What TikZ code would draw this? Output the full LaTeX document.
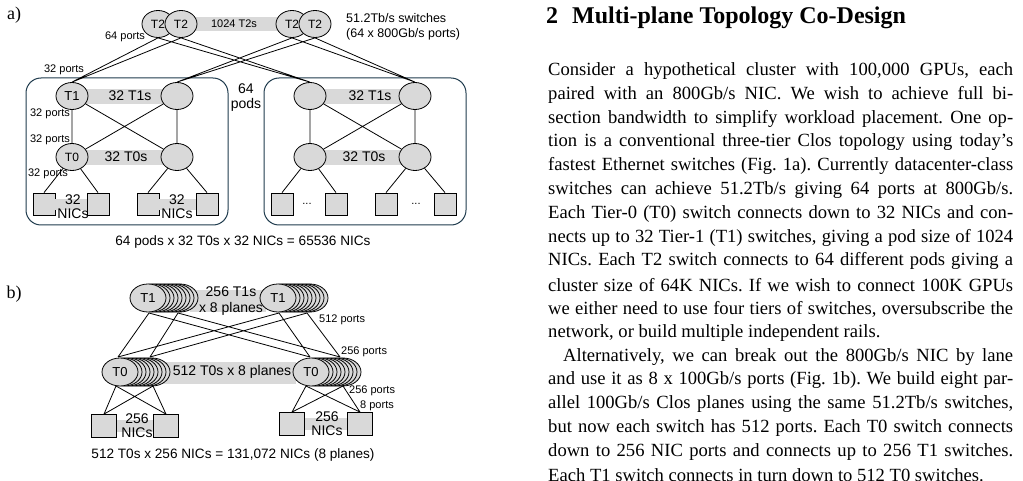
\documentclass[tikz,border=0pt]{standalone}
\usepackage{fontspec}
\setmainfont{Liberation Serif}
\newfontfamily\arial{Liberation Sans}
\usetikzlibrary{shapes.geometric}
\definecolor{lg}{HTML}{D9D9D9}
\definecolor{podc}{HTML}{1F3B4D}
\tikzset{
 sw/.style={ellipse,draw=black,fill=lg,line width=0.8pt,minimum width=32pt,minimum height=27pt,inner sep=0pt,font=\arial\fontsize{12}{12}\selectfont},
 swb/.style={sw,minimum width=36pt,minimum height=28pt},
 nic/.style={rectangle,draw=black,fill=lg,line width=0.8pt,minimum size=22pt,inner sep=0pt},
 bar/.style={fill=lg,draw=none},
 lnk/.style={line width=0.8pt},
 sm/.style={font=\arial\fontsize{11}{11}\selectfont,inner sep=0pt},
 md/.style={font=\arial\fontsize{13}{13}\selectfont,inner sep=0pt,align=center},
 pod/.style={draw=podc,line width=1pt,rounded corners=15pt},
 bl/.style={anchor=west,inner sep=0pt,font=\frenchspacing\fontsize{18.6}{18}\selectfont}
}
\newcommand{\jl}[1]{\makebox[465pt][s]{#1}}
\begin{document}
\begin{tikzpicture}[x=1pt,y=-1pt]
\useasboundingbox (0,0) rectangle (1023,481);
% ---------- a) ----------
\node[inner sep=0pt,font=\fontsize{18}{18}\selectfont] (la) at (14,15) {a)};
\fill[bar] (192,17) rectangle (290,31);
\node[sw] (t2a) at (158,24) {T2};
\node[sw] (t2b) at (181,24) {T2};
\node[sm] (t2lab) at (234,24) {1024 T2s};
\node[sw] (t2c) at (292,24) {T2};
\node[sw] (t2d) at (315,24) {T2};
\node[sm,anchor=west,font=\arial\fontsize{12.5}{12}\selectfont] (sw1) at (346,18) {51.2Tb/s switches};
\node[sm,anchor=west,font=\arial\fontsize{12.5}{12}\selectfont] (sw2) at (346,34) {(64 x 800Gb/s ports)};
\node[sm] (p64) at (125,37) {64 ports};
\node[sm] (p32a) at (64,70) {32 ports};
\draw[pod] (26,78) rectangle (228,225);
\draw[pod] (264,78) rectangle (466,225);
\node[md,font=\arial\fontsize{14}{14}\selectfont] (pods) at (246,98) {64\\[1pt]pods};
\foreach \o/\s in {0/L,238/R}{
 \fill[bar] (72+\o,89) rectangle (177+\o,104);
 \fill[bar] (72+\o,150) rectangle (177+\o,165);
 \node[sw] (a1\s) at (72+\o,96) {};
 \node[sw] (b1\s) at (177+\o,96) {};
 \node[sw] (a0\s) at (72+\o,157) {};
 \node[sw] (b0\s) at (177+\o,157) {};
 \node[nic] (n1\s) at (44+\o,204) {};
 \node[nic] (n2\s) at (98+\o,204) {};
 \node[nic] (n3\s) at (148+\o,204) {};
 \node[nic] (n4\s) at (207+\o,204) {};
 \draw[lnk] (a1\s) -- (a0\s) (b1\s) -- (b0\s) (a1\s) -- (b0\s) (b1\s) -- (a0\s);
 \draw[lnk] (a0\s) -- (n1\s.north) (a0\s) -- (n2\s.north) (b0\s) -- (n3\s.north) (b0\s) -- (n4\s.north);
}
\node[md] at (a1L) {T1};
\node[md,font=\arial\fontsize{12}{12}\selectfont] at (a0L) {T0};
\node[md,font=\arial\fontsize{14}{14}\selectfont] (l1L) at (130,96) {32 T1s};
\node[md,font=\arial\fontsize{14}{14}\selectfont] (l1R) at (370,96) {32 T1s};
\node[md,font=\arial\fontsize{14}{14}\selectfont] (l0L) at (126,157) {32 T0s};
\node[md,font=\arial\fontsize{14}{14}\selectfont] (l0R) at (364,157) {32 T0s};
\fill[bar] (n1L.east|-0,199) rectangle (n2L.west|-0,210);
\fill[bar] (n3L.east|-0,199) rectangle (n4L.west|-0,210);
\node[md,font=\arial\fontsize{14}{14}\selectfont] (ncL1) at (73,207) {32\\NICs};
\node[md,font=\arial\fontsize{14}{14}\selectfont] (ncL2) at (177,207) {32\\NICs};
\node[sm] (dt1) at (307,204) {...};
\node[sm] (dt2) at (416,204) {...};
\draw[lnk] (t2a.south) -- (a1L.north) (t2b.south) -- (a1L.north)
 (t2a.south) -- (a1R.north) (t2b.south) -- (a1R.north)
 (t2c.south) -- (b1L.north) (t2d.south) -- (b1L.north)
 (t2c.south) -- (b1R.north) (t2d.south) -- (b1R.north);
\node[sm] (p32b) at (50,114) {32 ports};
\node[sm] (p32c) at (50,140) {32 ports};
\node[sm] (p32d) at (48,174) {32 ports};
\node[md,font=\arial\fontsize{13.6}{13}\selectfont] (suma) at (243,242) {64 pods x 32 T0s x 32 NICs = 65536 NICs};
% ---------- b) ----------
\node[inner sep=0pt,font=\fontsize{18}{18}\selectfont] (lb) at (14,294) {b)};
\fill[bar] (190,290) rectangle (266,312);
\fill[bar] (160,362) rectangle (296,384);
\foreach \n/\x/\y/\t in {u1/148/298/T1,u2/278/298/T1,d1/120/372/T0,d2/311/372/T0}{
 \foreach \k in {8,7,...,1}{\node[swb] at (\x+4*\k,\y) {};}
 \node[swb,font=\arial\fontsize{13}{13}\selectfont] (\n) at (\x,\y) {\t};
}
\node[md,font=\arial\fontsize{14}{14}\selectfont] (lab1) at (231,292) {256 T1s};
\node[md,font=\arial\fontsize{14}{14}\selectfont] (lab2) at (231,309) {x 8 planes};
\node[md,font=\arial\fontsize{14}{14}\selectfont] (lab3) at (232,372) {512 T0s x 8 planes};
\coordinate (A1) at (149,313); \coordinate (A2) at (178,313);
\coordinate (B1) at (279,313); \coordinate (B2) at (307,313);
\coordinate (C1) at (118,357); \coordinate (C2) at (150,357);
\coordinate (D1) at (310,357); \coordinate (D2) at (340,357);
\draw[lnk] (A1)--(C1) (A2)--(C2) (A1)--(D1) (A2)--(D2) (B1)--(C1) (B2)--(C2) (B1)--(D1) (B2)--(D2);
\node[nic,minimum width=25pt,minimum height=23pt] (m1) at (104,426) {};
\node[nic,minimum width=25pt,minimum height=23pt] (m2) at (166,426) {};
\node[nic,minimum width=25pt,minimum height=23pt] (m3) at (292,424) {};
\node[nic,minimum width=25pt,minimum height=23pt] (m4) at (360,424) {};
\fill[bar] (m1.east|-0,420) rectangle (m2.west|-0,432);
\fill[bar] (m3.east|-0,418) rectangle (m4.west|-0,430);
\coordinate (E1) at (116,386); \coordinate (E2) at (153,386);
\coordinate (F1) at (306,386); \coordinate (F2) at (343,386);
\draw[lnk] (E1)--(m1.north) (E1)--(m2.north) (E2)--(m1.north) (E2)--(m2.north);
\draw[lnk] (F1)--(m3.north) (F1)--(m4.north) (F2)--(m3.north) (F2)--(m4.north);
\node[md,font=\arial\fontsize{14}{14}\selectfont] (nb1) at (137,426) {256\\NICs};
\node[md,font=\arial\fontsize{14}{14}\selectfont] (nb2) at (327,424) {256\\NICs};
\node[sm,anchor=west] (pb1) at (319,320) {512 ports};
\node[sm,anchor=west] (pb2) at (341,352) {256 ports};
\node[sm,anchor=west] (pb3) at (349,391) {256 ports};
\node[sm,anchor=west] (pb4) at (360,406) {8 ports};
\node[md,font=\arial\fontsize{13.6}{13}\selectfont] (sumb) at (233,455) {512 T0s x 256 NICs = 131,072 NICs (8 planes)};
% ---------- text ----------
\node[anchor=west,inner sep=0pt,font=\bfseries\fontsize{24}{24}\selectfont] (hd) at (546,18) {2\hspace{14pt}Multi-plane Topology Co-Design};
\foreach \i/\s in {
 0/{\jl{Consider a hypothetical cluster with 100,000 GPUs, each}},
 1/{\jl{paired with an 800Gb/s NIC. We wish to achieve full bi-}},
 2/{\jl{section bandwidth to simplify workload placement. One op-}},
 3/{\jl{tion is a conventional three-tier Clos topology using today’s}},
 4/{\jl{fastest Ethernet switches (Fig. 1a). Currently datacenter-class}},
 5/{\jl{switches can achieve 51.2Tb/s giving 64 ports at 800Gb/s.}},
 6/{\jl{Each Tier-0 (T0) switch connects down to 32 NICs and con-}},
 7/{\jl{nects up to 32 Tier-1 (T1) switches, giving a pod size of 1024}},
 8/{\jl{NICs. Each T2 switch connects to 64 different pods giving a}},
 9/{\jl{cluster size of 64K NICs. If we wish to connect 100K GPUs}},
 10/{\jl{we either need to use four tiers of switches, oversubscribe the}},
 11/{network, or build multiple independent rails.},
 12/{\hspace{15pt}\makebox[450pt][s]{Alternatively, we can break out the 800Gb/s NIC by lane}},
 13/{\jl{and use it as 8 x 100Gb/s ports (Fig. 1b). We build eight par-}},
 14/{\jl{allel 100Gb/s Clos planes using the same 51.2Tb/s switches,}},
 15/{\jl{but now each switch has 512 ports. Each T0 switch connects}},
 16/{\jl{down to 256 NIC ports and connects up to 256 T1 switches.}},
 17/{Each T1 switch connects in turn down to 512 T0 switches.}}
 {\node[bl] (tx\i) at (548,71+23.8*\i) {\s};}
\end{tikzpicture}
\end{document}
